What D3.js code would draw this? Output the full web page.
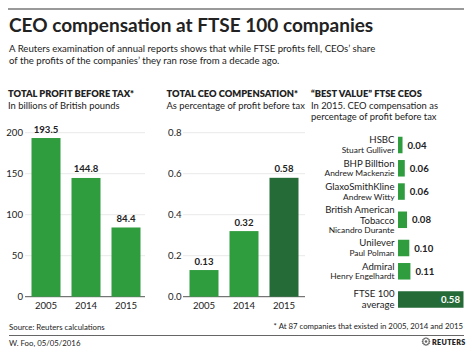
<!DOCTYPE html>
<html>
<head>
<meta charset="utf-8">
<script src="https://cdn.jsdelivr.net/npm/d3@7"></script>
<style>
  html, body { margin: 0; padding: 0; background: #fff; }
  svg { display: block; }
  text { font-family: Lato, "Open Sans", sans-serif; fill: #222; }
</style>
</head>
<body>
<svg id="chart" width="472" height="355"></svg>
<script>
// ---- Data ----
const years = ["2005", "2014", "2015"];
const profitValues = [193.5, 144.8, 84.4];
const profitTicks = [0, 50, 100, 150, 200];
const compValues = [0.13, 0.32, 0.58];
const compTicks = [0, 0.2, 0.4, 0.6, 0.8];
const companies = ["HSBC", "BHP Billtion", "GlaxoSmithKline", "British American Tobacco", "Unilever", "Admiral", "FTSE 100 average"];
const companyLines = [["HSBC"], ["BHP Billtion"], ["GlaxoSmithKline"], ["British American", "Tobacco"], ["Unilever"], ["Admiral"], ["FTSE 100", "average"]];
const ceos = ["Stuart Gulliver", "Andrew Mackenzie", "Andrew Witty", "Nicandro Durante", "Paul Polman", "Henry Engelhardt", ""];
const ceoValues = [0.04, 0.06, 0.06, 0.08, 0.10, 0.11, 0.58];

const GREEN = "#2f9c3e";
const DARK = "#246b38";

const svg = d3.select("#chart");

// ---- Header ----
svg.append("line").attr("x1", 8).attr("x2", 464).attr("y1", 9).attr("y2", 9)
  .attr("stroke", "#777").attr("stroke-width", 1.5);
svg.append("text").attr("x", 9).attr("y", 32).attr("font-size", 19).attr("font-weight", 700)
  .attr("fill", "#111").text("CEO compensation at FTSE 100 companies");
svg.append("text").attr("x", 9).attr("y", 51.5).attr("font-size", 9.6).attr("fill", "#333")
  .text("A Reuters examination of annual reports shows that while FTSE profits fell, CEOs’ share");
svg.append("text").attr("x", 9).attr("y", 64).attr("font-size", 9.6).attr("fill", "#333")
  .text("of the profits of the companies’ they ran rose from a decade ago.");

// ---- Column chart helper ----
function columnPanel(opts) {
  const g = svg.append("g");
  g.append("text").attr("x", opts.titleX).attr("y", 97).attr("font-size", 9.3).attr("font-weight", 800)
    .attr("fill", "#111").text(opts.title);
  g.append("text").attr("x", opts.titleX).attr("y", 108.5).attr("font-size", 9.4).attr("fill", "#333")
    .text(opts.subtitle);

  const x = d3.scaleBand().domain(years).range(opts.xRange).paddingInner(0.275).paddingOuter(0.1375);
  const y = d3.scaleLinear().domain(opts.domain).range([296.7, 132.7]);

  const yAxis = d3.axisLeft(y).tickValues(opts.ticks).tickFormat(opts.fmt).tickSize(0).tickPadding(0);
  const ya = g.append("g").attr("transform", `translate(${opts.labelX},0)`).call(yAxis);
  ya.select(".domain").remove();
  ya.selectAll("text").attr("font-size", 9.6).attr("fill", "#444").attr("font-family", "Lato, sans-serif");

  g.selectAll(".grid").data(opts.ticks).enter().append("line")
    .attr("x1", opts.grid[0]).attr("x2", opts.grid[1])
    .attr("y1", d => y(d)).attr("y2", d => y(d))
    .attr("stroke", d => d === 0 ? "#555" : "#e2e2e2").attr("stroke-width", d => d === 0 ? 1 : 0.8);

  g.selectAll(".bar").data(opts.values).enter().append("rect")
    .attr("x", (d, i) => x(years[i])).attr("width", x.bandwidth())
    .attr("y", d => y(d)).attr("height", d => y(0) - y(d))
    .attr("fill", (d, i) => opts.colors[i]);

  g.selectAll(".val").data(opts.values).enter().append("text")
    .attr("x", (d, i) => x(years[i]) + x.bandwidth() / 2).attr("y", d => y(d) - 5.5)
    .attr("text-anchor", "middle").attr("font-size", 9.6).attr("font-weight", 700).attr("fill", "#222")
    .text(d => opts.valFmt(d));

  const xAxis = d3.axisBottom(x).tickSize(0).tickPadding(0);
  const xa = g.append("g").attr("transform", `translate(0,${y(0)})`).call(xAxis);
  xa.select(".domain").remove();
  xa.selectAll("text").attr("font-size", 9.6).attr("fill", "#333").attr("font-family", "Lato, sans-serif")
    .attr("dy", "1.25em");
}

columnPanel({
  title: "TOTAL PROFIT BEFORE TAX*", subtitle: "In billions of British pounds", titleX: 8,
  values: profitValues, ticks: profitTicks, domain: [0, 200], fmt: d3.format("d"), valFmt: d3.format(".1f"),
  xRange: [26, 146], labelX: 23, grid: [25, 145], colors: [GREEN, GREEN, GREEN]
});
columnPanel({
  title: "TOTAL CEO COMPENSATION*", subtitle: "As percentage of profit before tax", titleX: 166.5,
  values: compValues, ticks: compTicks, domain: [0, 0.8], fmt: d3.format(".1f"), valFmt: d3.format(".2f"),
  xRange: [184, 304], labelX: 181.5, grid: [183, 305], colors: [GREEN, GREEN, DARK]
});

// ---- Best value panel ----
const g3 = svg.append("g");
g3.append("text").attr("x", 311).attr("y", 97).attr("font-size", 9.3).attr("font-weight", 800)
  .attr("fill", "#111").text("“BEST VALUE” FTSE CEOS");
g3.append("text").attr("x", 311).attr("y", 108.5).attr("font-size", 9.4).attr("fill", "#333")
  .text("In 2015. CEO compensation as");
g3.append("text").attr("x", 311).attr("y", 119.5).attr("font-size", 9.4).attr("fill", "#333")
  .text("percentage of profit before tax");

// row heights derived from number of label lines
const rowUnits = companyLines.map(l => 2 + (l.length - 1) * 0.85);
const cum = [];
let acc = 0;
rowUnits.forEach((u, i) => { cum.push(acc + u / 2); acc += u; });
const yRow = d3.scaleLinear().domain([cum[0], cum[cum.length - 1]]).range([145, 299.5]);
const xH = d3.scaleLinear().domain([0, 0.58]).range([398, 463.5]);
const barH = 16.5;

companies.forEach((c, i) => {
  const cy = yRow(cum[i]);
  const isAvg = i === companies.length - 1;
  g3.append("rect").attr("x", xH(0)).attr("width", xH(ceoValues[i]) - xH(0))
    .attr("y", cy - barH / 2).attr("height", barH).attr("fill", isAvg ? DARK : GREEN);
  if (isAvg) {
    g3.append("text").attr("x", xH(ceoValues[i]) - 3.5).attr("y", cy + 3.5)
      .attr("text-anchor", "end").attr("font-size", 9.6).attr("font-weight", 700).attr("fill", "#fff")
      .style("fill", "#fff").text(d3.format(".2f")(ceoValues[i]));
  } else {
    g3.append("text").attr("x", xH(ceoValues[i]) + 5).attr("y", cy + 3.5)
      .attr("font-size", 9.6).attr("font-weight", 700).attr("fill", "#222").text(d3.format(".2f")(ceoValues[i]));
  }
  const lines = companyLines[i];
  const hasCeo = !!ceos[i];
  const compGap = 11;   // spacing between company-name lines
  const ceoGap = 9.6;   // spacing from company name to CEO line
  const block = (lines.length - 1) * compGap + (hasCeo ? ceoGap : 0);
  const firstBase = cy - block / 2 + 3.2;
  lines.forEach((t, k) => {
    g3.append("text").attr("x", 394.5).attr("y", firstBase + k * compGap)
      .attr("text-anchor", "end").attr("font-size", 9.6).attr("fill", "#222").text(t);
  });
  if (hasCeo) {
    g3.append("text").attr("x", 394.5).attr("y", firstBase + (lines.length - 1) * compGap + ceoGap)
      .attr("text-anchor", "end").attr("font-size", 8.4).attr("fill", "#222").text(ceos[i]);
  }
});

// ---- Footer ----
svg.append("text").attr("x", 463).attr("y", 329).attr("text-anchor", "end").attr("font-size", 7.8)
  .attr("fill", "#333").text("* At 87 companies that existed in 2005, 2014 and 2015");
svg.append("text").attr("x", 9).attr("y", 329.5).attr("font-size", 7.8).attr("fill", "#333")
  .text("Source: Reuters calculations");
svg.append("line").attr("x1", 9).attr("x2", 464).attr("y1", 335.5).attr("y2", 335.5)
  .attr("stroke", "#666").attr("stroke-width", 1);
svg.append("text").attr("x", 9).attr("y", 346).attr("font-size", 7.8).attr("fill", "#333")
  .text("W. Foo, 05/05/2016");

// Reuters logo
const logo = svg.append("g").attr("transform", "translate(426,341.5)");
const dots = d3.range(12);
dots.forEach(k => {
  const a = k / 12 * Math.PI * 2;
  logo.append("circle").attr("cx", Math.cos(a) * 3.4).attr("cy", Math.sin(a) * 3.4).attr("r", 0.9).attr("fill", "#666");
});
logo.append("circle").attr("r", 1.3).attr("fill", "#666");
svg.append("text").attr("x", 432).attr("y", 344.5).attr("font-size", 7.2).attr("font-weight", 800)
  .attr("fill", "#555").attr("letter-spacing", 0.3).text("REUTERS");
</script>
</body>
</html>
